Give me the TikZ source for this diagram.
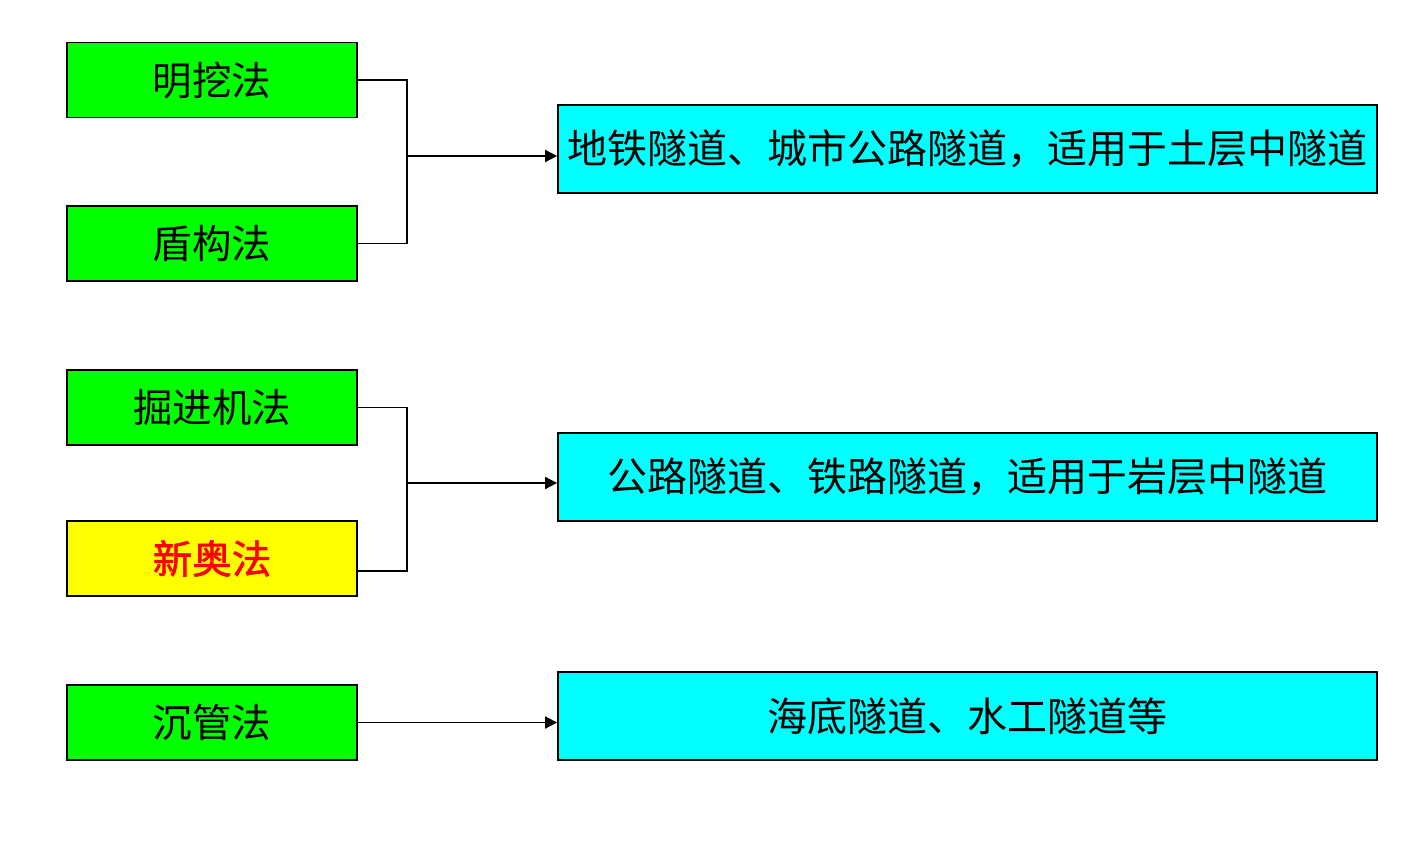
\documentclass[tikz,border=0pt]{standalone}
\usepackage{fontspec}
\newfontfamily\cjk{Noto Sans CJK SC}
\newfontfamily\cjkb[FakeBold=1.6]{Noto Sans CJK SC}
\usetikzlibrary{arrows.meta}

\definecolor{boxgreen}{RGB}{0,255,0}
\definecolor{boxcyan}{RGB}{0,255,255}
\definecolor{boxyellow}{RGB}{255,255,0}
\definecolor{textred}{RGB}{255,0,0}

\tikzset{
	method/.style={ draw, line width=1.8pt, fill=boxgreen, minimum width=290pt, minimum height=75pt, inner sep=0pt, font=\cjk\fontsize{39.5}{44}\selectfont },
	usage/.style={ draw, line width=1.8pt, fill=boxcyan, minimum width=819pt, minimum height=88pt, inner sep=0pt, font=\cjk\fontsize{40}{44}\selectfont },
	link/.style={ line width=1.8pt },
	arr/.style={ link, -{Triangle[length=12pt,width=12pt]} }
}

\begin{document}
\begin{tikzpicture}[ x=1pt, y=-1pt ]
	  \useasboundingbox (0,0) rectangle (1418,864);

	  \node [ method ] (mw) at (212,80) {明挖法};
	  \node [ method ] (dg) at (212,243.5) {盾构法};
	  \node [ method ] (jj) at (212,407.5) {掘进机法};
	  \node [ method, fill=boxyellow, text=textred, font=\cjkb\fontsize{39.5}{44}\selectfont ] (xa) at (212,558.5) {新奥法};
	  \node [ method ] (cg) at (212,722.5) {沉管法};

	  \node [ usage ] (t1) at (967.5,149) {地铁隧道、城市公路隧道，适用于土层中隧道};
	  \node [ usage ] (t2) at (967.5,477) {公路隧道、铁路隧道，适用于岩层中隧道};
	  \node [ usage ] (t3) at (967.5,716) {海底隧道、水工隧道等};

	  \coordinate (b1) at (407,156);
	  \coordinate (b2) at (407,483);

	  \draw [ link ] (mw.east) -| (b1) |- (dg.east);
	  \draw [ arr ] (b1) -- (t1.west |- b1);

	  \draw [ link ] (jj.east) -| (b2) |- ([yshift=-12.5pt]xa.east);
	  \draw [ arr ] (b2) -- (t2.west |- b2);

	  \draw [ arr ] (cg.east) -- (t3.west |- cg.east);
	\end{tikzpicture}
\end{document}
